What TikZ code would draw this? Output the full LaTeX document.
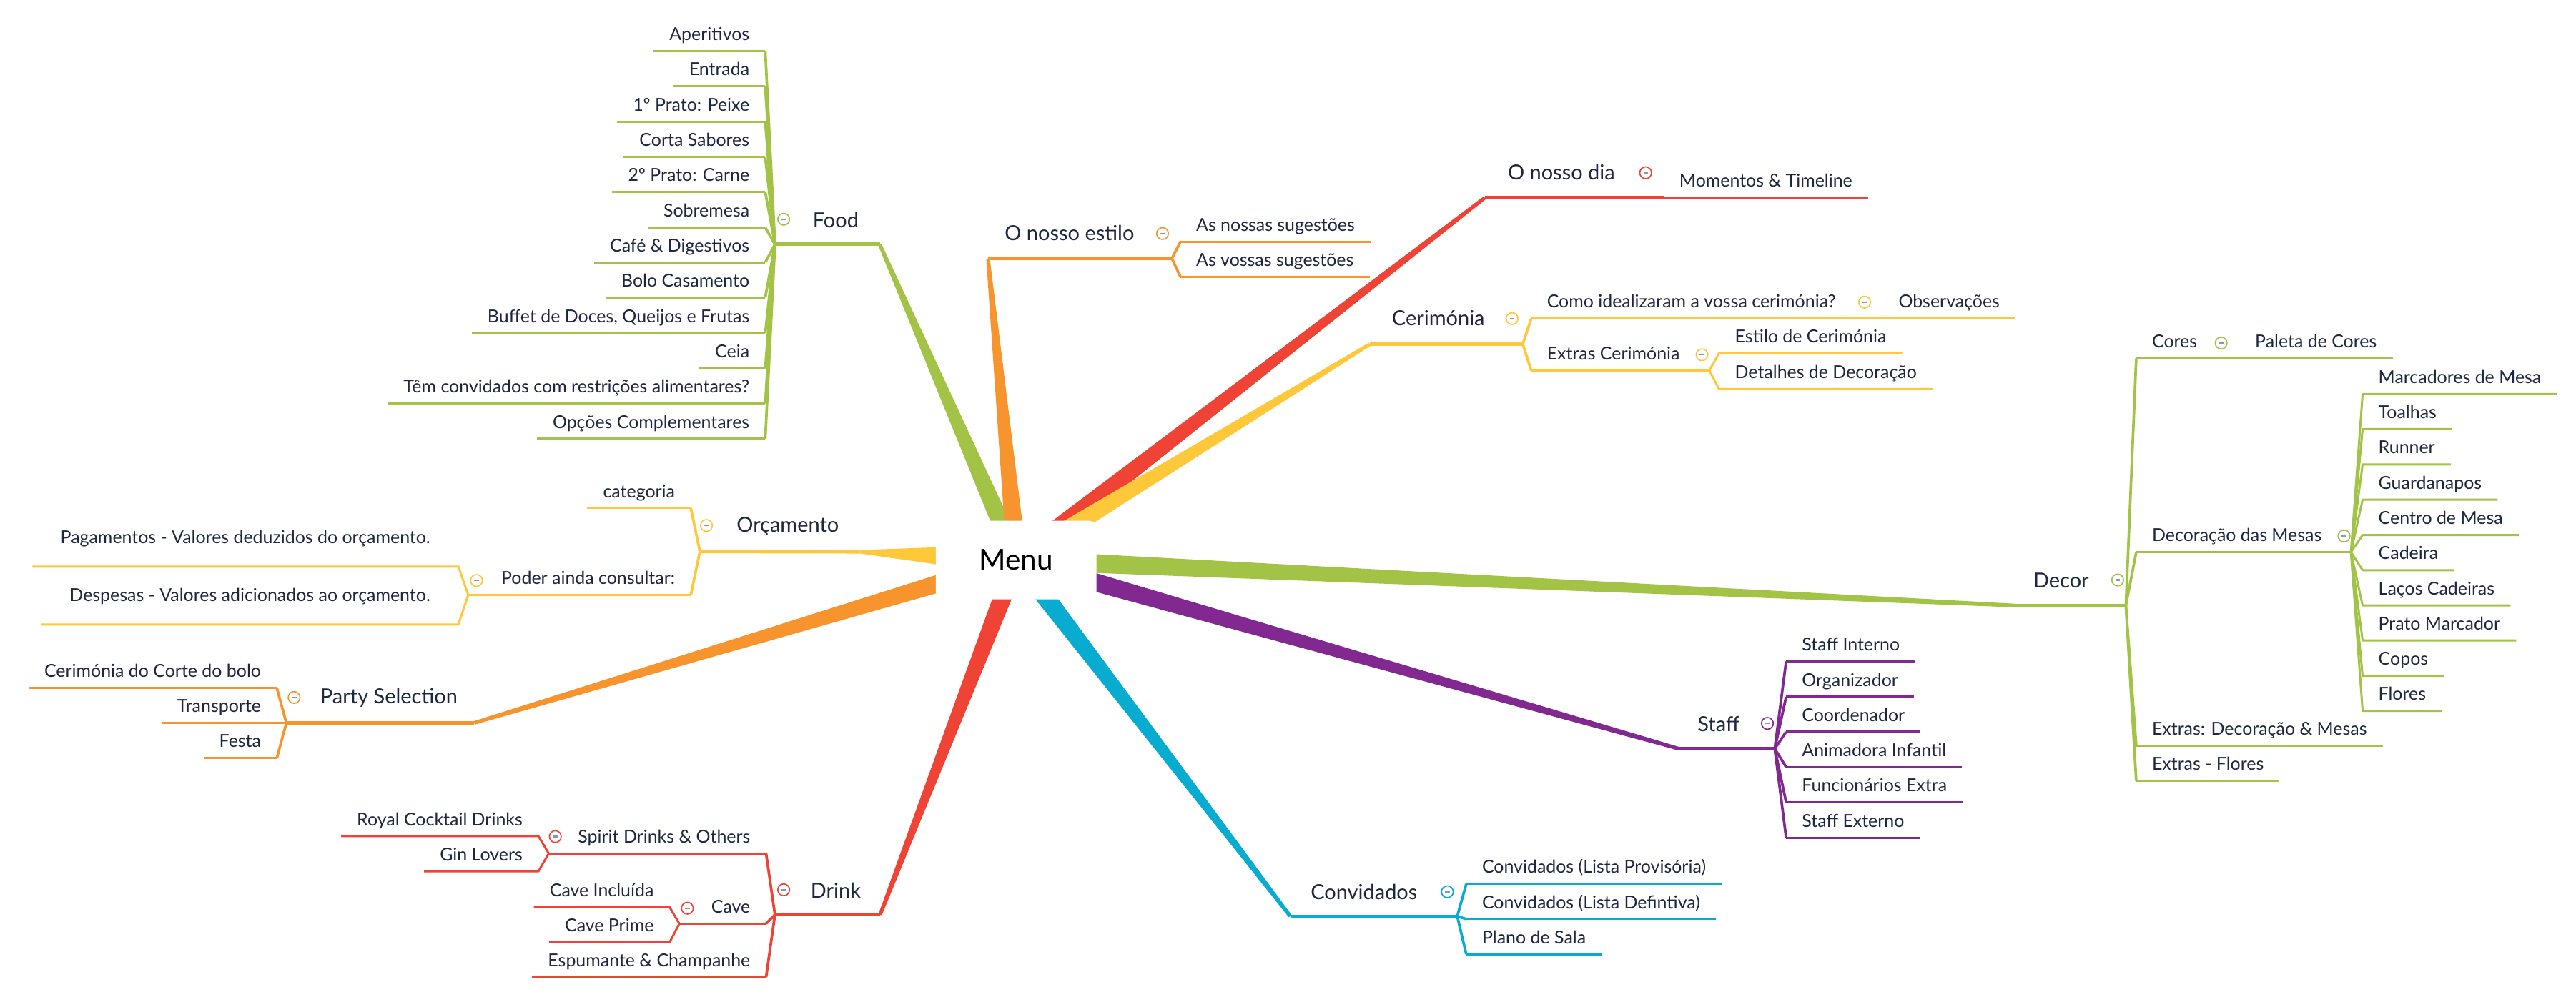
\documentclass[tikz,border=0pt]{standalone}
\usepackage{fontspec}
\setmainfont{Lato}
\usetikzlibrary{calc}
\definecolor{leafgreen}{RGB}{163,195,71}
\definecolor{tangerine}{RGB}{247,148,45}
\definecolor{tomato}{RGB}{239,67,54}
\definecolor{sunflower}{RGB}{254,200,58}
\definecolor{plum}{RGB}{129,41,145}
\definecolor{lagoon}{RGB}{8,172,208}
\definecolor{ink}{RGB}{30,38,64}
\definecolor{knob}{RGB}{135,150,185}
\newcommand{\leaffont}{\fontsize{14.2}{17}\selectfont}
\newcommand{\topicfont}{\fontsize{16.5}{19}\selectfont}
\newcommand{\menufont}{\fontsize{23}{27}\selectfont}
% tapered spoke from the centre to a topic
\newcommand{\spoke}[4][0.28cm]{%
  \fill[#2] ($(#3)!#1!90:(#4)$) -- ($(#4)!0.05cm!-90:(#3)$)
    -- ($(#4)!0.05cm!90:(#3)$) -- ($(#3)!#1!-90:(#4)$) -- cycle;}

\begin{document}
\begin{tikzpicture}[x=0.046cm, y=-0.046cm,
  leafl/.style={anchor=south east, font=\leaffont, text=ink, inner xsep=0.437cm,
    inner ysep=0pt, text height=0.33cm, text depth=0.29cm},
  leafr/.style={leafl, anchor=south west},
  noteleaf/.style={leafl, inner xsep=0.78cm, text depth=0.635cm},
  topic/.style={anchor=base, font=\topicfont, text=ink, inner sep=0pt},
  tline/.style={line width=2.8pt},
  brk/.style={line width=2.1pt, line join=round},
  uln/.style={line width=1.7pt, line join=round},
  tog/.style={circle, draw=#1, fill=white, line width=0.95pt, minimum size=0.33cm,
    inner sep=0pt, path picture={\draw[knob, line width=1.3pt]
      ([xshift=-0.065cm]path picture bounding box.center) --
      ([xshift=0.065cm]path picture bounding box.center);}},
  menubox/.style={fill=white, rounded corners=0.2cm, minimum width=4.5cm,
    minimum height=2.2cm, font=\menufont, text=black}]
  \useasboundingbox (0,0) rectangle (1568,607);

  % centre and topic ends
  \coordinate (menu-c) at (619,341);
  \coordinate (food-e) at (535.5,148.8);   \coordinate (food-j) at (471.7,148.8);
  \coordinate (estilo-e) at (601.4,157.4); \coordinate (estilo-j) at (713.3,157.4);
  \coordinate (dia-e) at (903.8,120.4);    \coordinate (dia-j) at (1012.6,120.4);
  \coordinate (cerim-e) at (833.8,209.6);  \coordinate (cerim-j) at (926.9,209.6);
  \coordinate (decor-e) at (1226.3,368.7); \coordinate (decor-j) at (1294,368.7);
  \coordinate (staff-e) at (1021.9,455.9); \coordinate (staff-j) at (1080.3,455.9);
  \coordinate (convid-e) at (785.4,557.9); \coordinate (convid-j) at (887,557.9);
  \coordinate (drink-e) at (535.7,557);    \coordinate (drink-j) at (471.7,557);
  \coordinate (party-e) at (288.6,440.2);  \coordinate (party-j) at (174.3,440.2);
  \coordinate (orcam-e) at (523.7,336);    \coordinate (orcam-j) at (426,335.8);

  % spokes
  \spoke{leafgreen}{menu-c}{food-e}
  \spoke{tangerine}{menu-c}{estilo-e}
  \spoke{tomato}{menu-c}{dia-e}
  \spoke{sunflower}{menu-c}{cerim-e}
  \spoke{leafgreen}{menu-c}{decor-e}
  \spoke{plum}{menu-c}{staff-e}
  \spoke{lagoon}{menu-c}{convid-e}
  \spoke{tomato}{menu-c}{drink-e}
  \spoke{tangerine}{menu-c}{party-e}
  \spoke[0.44cm]{sunflower}{menu-c}{orcam-e}

  \node[menubox] (menu) at (618.5,341) {Menu};

  % topic lines
  \draw[tline, leafgreen] (food-e) -- (food-j);
  \draw[tline, tangerine] (estilo-e) -- (estilo-j);
  \draw[tline, tomato] (dia-e) -- (dia-j);
  \draw[tline, sunflower] (cerim-e) -- (cerim-j);
  \draw[tline, leafgreen] (decor-e) -- (decor-j);
  \draw[tline, plum] (staff-e) -- (staff-j);
  \draw[tline, lagoon] (convid-e) -- (convid-j);
  \draw[tline, tomato] (drink-e) -- (drink-j);
  \draw[tline, tangerine] (party-e) -- (party-j);
  \draw[tline, sunflower] (orcam-e) -- (orcam-j);

  % topic labels
  \node[topic] (food) at (508.7,138.4) {Food};
  \node[topic] (estilo) at (651,146.5) {O nosso estilo};
  \node[topic] (dia) at (950.4,109.5) {O nosso dia};
  \node[topic] (cerim) at (875.5,198.4) {Cerimónia};
  \node[topic] (decor) at (1254.6,357.9) {Decor};
  \node[topic] (staff) at (1046.1,445.3) {Staff};
  \node[topic] (convid) at (830.3,547.8) {Convidados};
  \node[topic] (drink) at (508.7,546.6) {Drink};
  \node[topic] (party) at (236.7,428.3) {Party Selection};
  \node[topic] (orcam) at (479.5,323.8) {Orçamento};

  % Food
  \node[leafl] (f1) at (465.8,31) {Aperitivos};
  \node[leafl] (f2) at (465.8,52.5) {Entrada};
  \node[leafl] (f3) at (465.8,74) {1º Prato: Peixe};
  \node[leafl] (f4) at (465.8,95.4) {Corta Sabores};
  \node[leafl] (f5) at (465.8,116.9) {2º Prato: Carne};
  \node[leafl] (f6) at (465.8,138.6) {Sobremesa};
  \node[leafl] (f7) at (465.8,159.8) {Café \& Digestivos};
  \node[leafl] (f8) at (465.8,181.2) {Bolo Casamento};
  \node[leafl] (f9) at (465.8,202.8) {Buffet de Doces, Queijos e Frutas};
  \node[leafl] (f10) at (465.8,224.4) {Ceia};
  \node[leafl] (f11) at (465.8,245.7) {Têm convidados com restrições alimentares?};
  \node[leafl] (f12) at (465.8,267.2) {Opções Complementares};
  \foreach \n in {f1,f2,f3,f4,f5,f6,f7,f8,f9,f10,f11,f12} {
    \draw[brk, leafgreen] (food-j) -- (\n.south east);
    \draw[uln, leafgreen] (\n.south east) -- (\n.south west);
  }

  % O nosso estilo
  \node[leafr] (e1) at (718.5,147.2) {As nossas sugestões};
  \node[leafr] (e2) at (718.5,168.5) {As vossas sugestões};
  \foreach \n in {e1,e2} {
    \draw[brk, tangerine] (estilo-j) -- (\n.south west);
    \draw[uln, tangerine] (\n.south west) -- (\n.south east);
  }

  % O nosso dia
  \node[leafr] (d1) at (1012.6,120.4) {Momentos \& Timeline};
  \draw[uln, tomato] (dia-j) -- (d1.south west) -- (d1.south east);

  % Cerimonia
  \node[leafr] (c1) at (932,194) {Como idealizaram a vossa cerimónia?};
  \node[leafr] (c2) at (932,225.6) {Extras Cerimónia};
  \foreach \n in {c1,c2} {
    \draw[brk, sunflower] (cerim-j) -- (\n.south west);
    \draw[uln, sunflower] (\n.south west) -- (\n.south east);
  }
  \coordinate (c1-j) at (1141,194);
  \coordinate (c2-j) at (1040.5,225.6);
  \node[leafr] (c1a) at (1146,194) {Observações};
  \node[leafr] (c2a) at (1046.4,215) {Estilo de Cerimónia};
  \node[leafr] (c2b) at (1046.4,236.9) {Detalhes de Decoração};
  \draw[uln, sunflower] (c1.south east) -- (c1-j) -- (c1a.south west) -- (c1a.south east);
  \draw[uln, sunflower] (c2.south east) -- (c2-j);
  \foreach \n in {c2a,c2b} {
    \draw[uln, sunflower] (c2-j) -- (\n.south west) -- (\n.south east);
  }

  % Decor
  \node[leafr] (k1) at (1300.3,218.3) {Cores};
  \node[leafr] (k2) at (1300.3,336.2) {Decoração das Mesas};
  \node[leafr] (k3) at (1300.3,454.2) {Extras: Decoração \& Mesas};
  \node[leafr] (k4) at (1300.3,475.5) {Extras - Flores};
  \foreach \n in {k1,k2,k3,k4} {
    \draw[brk, leafgreen] (decor-j) -- (\n.south west);
    \draw[uln, leafgreen] (\n.south west) -- (\n.south east);
  }
  \coordinate (k1-j) at (1357,218.3);
  \coordinate (k2-j) at (1431,336.2);
  \node[leafr] (k1a) at (1363,218.3) {Paleta de Cores};
  \draw[uln, leafgreen] (k1.south east) -- (k1-j) -- (k1a.south west) -- (k1a.south east);
  \draw[uln, leafgreen] (k2.south east) -- (k2-j);
  \node[leafr] (m1) at (1438.1,240) {Marcadores de Mesa};
  \node[leafr] (m2) at (1438.1,261.3) {Toalhas};
  \node[leafr] (m3) at (1438.1,282.8) {Runner};
  \node[leafr] (m4) at (1438.1,304.3) {Guardanapos};
  \node[leafr] (m5) at (1438.1,325.8) {Centro de Mesa};
  \node[leafr] (m6) at (1438.1,347.2) {Cadeira};
  \node[leafr] (m7) at (1438.1,368.7) {Laços Cadeiras};
  \node[leafr] (m8) at (1438.1,390) {Prato Marcador};
  \node[leafr] (m9) at (1438.1,411.5) {Copos};
  \node[leafr] (m10) at (1438.1,432.9) {Flores};
  \foreach \n in {m1,m2,m3,m4,m5,m6,m7,m8,m9,m10} {
    \draw[uln, leafgreen] (k2-j) -- (\n.south west) -- (\n.south east);
  }

  % Staff
  \node[leafr] (s1) at (1087.2,402.7) {Staff Interno};
  \node[leafr] (s2) at (1087.2,424.3) {Organizador};
  \node[leafr] (s3) at (1087.2,445.6) {Coordenador};
  \node[leafr] (s4) at (1087.2,467.1) {Animadora Infantil};
  \node[leafr] (s5) at (1087.2,488.5) {Funcionários Extra};
  \node[leafr] (s6) at (1087.2,510.1) {Staff Externo};
  \foreach \n in {s1,s2,s3,s4,s5,s6} {
    \draw[brk, plum] (staff-j) -- (\n.south west);
    \draw[uln, plum] (\n.south west) -- (\n.south east);
  }

  % Convidados
  \node[leafr] (v1) at (892.5,538.2) {Convidados (Lista Provisória)};
  \node[leafr] (v2) at (892.5,559.6) {Convidados (Lista Defintiva)};
  \node[leafr] (v3) at (892.5,581) {Plano de Sala};
  \foreach \n in {v1,v2,v3} {
    \draw[brk, lagoon] (convid-j) -- (\n.south west);
    \draw[uln, lagoon] (\n.south west) -- (\n.south east);
  }

  % Drink
  \node[leafl] (r1) at (466.3,519.7) {Spirit Drinks \& Others};
  \node[leafl] (r2) at (466.3,562.4) {Cave};
  \node[leafl] (r3) at (466.3,595) {Espumante \& Champanhe};
  \foreach \n in {r1,r2,r3} {
    \draw[brk, tomato] (drink-j) -- (\n.south east);
    \draw[uln, tomato] (\n.south east) -- (\n.south west);
  }
  \coordinate (r1-j) at (334,519.7);
  \coordinate (r2-j) at (413.5,562.4);
  \draw[uln, tomato] (r1.south west) -- (r1-j);
  \draw[uln, tomato] (r2.south west) -- (r2-j);
  \node[leafl] (r1a) at (327.7,509.1) {Royal Cocktail Drinks};
  \node[leafl] (r1b) at (327.7,530.6) {Gin Lovers};
  \node[leafl] (r2a) at (407.6,552.4) {Cave Incluída};
  \node[leafl] (r2b) at (407.6,573.7) {Cave Prime};
  \foreach \n in {r1a,r1b} {
    \draw[uln, tomato] (r1-j) -- (\n.south east) -- (\n.south west);
  }
  \foreach \n in {r2a,r2b} {
    \draw[uln, tomato] (r2-j) -- (\n.south east) -- (\n.south west);
  }

  % Party Selection
  \node[leafl] (p1) at (168.5,418.9) {Cerimónia do Corte do bolo};
  \node[leafl] (p2) at (168.5,440.2) {Transporte};
  \node[leafl] (p3) at (168.5,461.6) {Festa};
  \foreach \n in {p1,p2,p3} {
    \draw[brk, tangerine] (party-j) -- (\n.south east);
    \draw[uln, tangerine] (\n.south east) -- (\n.south west);
  }

  % Orcamento
  \node[leafl] (o1) at (420.5,309.4) {categoria};
  \node[leafl] (o2) at (420.5,362.3) {Poder ainda consultar:};
  \foreach \n in {o1,o2} {
    \draw[brk, sunflower] (orcam-j) -- (\n.south east);
    \draw[uln, sunflower] (\n.south east) -- (\n.south west);
  }
  \coordinate (o2-j) at (285,362.3);
  \draw[uln, sunflower] (o2.south west) -- (o2-j);
  \node[noteleaf] (o2a) at (279,345) {Pagamentos - Valores deduzidos do orçamento.};
  \node[noteleaf] (o2b) at (279,380.3) {Despesas - Valores adicionados ao orçamento.};
  \foreach \n in {o2a,o2b} {
    \draw[uln, sunflower] (o2-j) -- (\n.south east) -- (\n.south west);
  }

  % collapse knobs
  \node[tog=leafgreen] (food-t) at (477,133.5) {};
  \node[tog=tangerine] (estilo-t) at (707.6,142.2) {};
  \node[tog=tomato] (dia-t) at (1001.7,105.2) {};
  \node[tog=sunflower] (cerim-t) at (920.4,194) {};
  \node[tog=sunflower] (c1-t) at (1135,184) {};
  \node[tog=sunflower] (c2-t) at (1036,216) {};
  \node[tog=leafgreen] (decor-t) at (1289,353.2) {};
  \node[tog=leafgreen] (k1-t) at (1352,208.9) {};
  \node[tog=leafgreen] (k2-t) at (1426.8,326.4) {};
  \node[tog=plum] (staff-t) at (1075.8,440.5) {};
  \node[tog=lagoon] (convid-t) at (881,543) {};
  \node[tog=tomato] (drink-t) at (477,541.8) {};
  \node[tog=tomato] (r1-t) at (338,509.4) {};
  \node[tog=tomato] (r2-t) at (418.4,553) {};
  \node[tog=tangerine] (party-t) at (179,424.7) {};
  \node[tog=sunflower] (orcam-t) at (430,320) {};
  \node[tog=sunflower] (o2-t) at (290,353.5) {};
\end{tikzpicture}
\end{document}
